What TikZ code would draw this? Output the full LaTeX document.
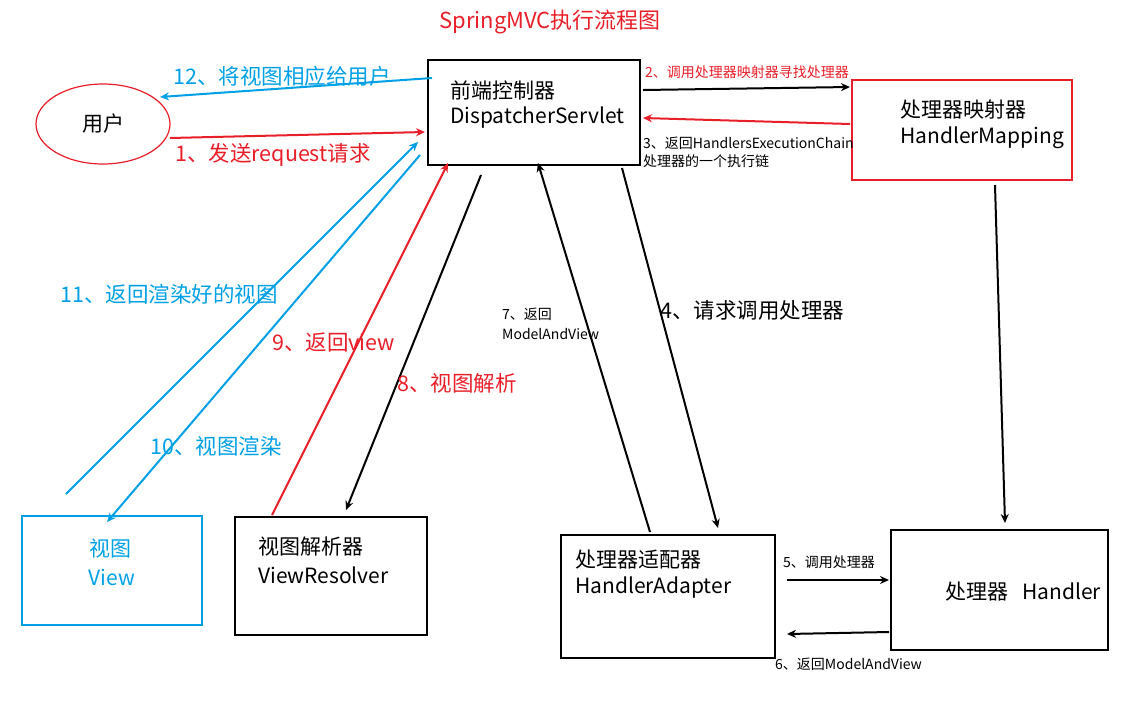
\documentclass[tikz,border=0pt]{standalone}
\usepackage{fontspec}
\setmainfont{Noto Sans CJK SC}
\usetikzlibrary{arrows.meta}
\definecolor{myred}{RGB}{232,30,40}
\definecolor{myblue}{RGB}{0,160,230}
\begin{document}
\begin{tikzpicture}[x=1pt,y=-1pt,
 box/.style={draw,line width=1.2pt,inner sep=0pt},
 arr/.style={line width=2pt,-{Stealth[length=9pt,width=8pt]}},
 big/.style={font=\fontsize{21}{24}\selectfont,anchor=west,inner sep=0pt},
 small/.style={font=\fontsize{14}{16}\selectfont,anchor=west,inner sep=0pt},
 lbl/.style={font=\fontsize{21.5}{24}\selectfont,anchor=west,inner sep=0pt}]
\useasboundingbox (0,0) rectangle (1127,713);
\node[font=\fontsize{22}{26}\selectfont,text=myred] (title) at (550,22) {SpringMVC执行流程图};
% boxes
\draw[myred,line width=1.2pt] (103,124) ellipse (67 and 40);
\node[big,anchor=center] (user) at (103,124) {用户};
\draw[box] (428,60) rectangle (640,165);
\node[big] (ds1) at (450,90) {前端控制器};
\node[big] (ds2) at (450,118) {DispatcherServlet};
\draw[box,myred] (852,80) rectangle (1072,180);
\node[big] (hm1) at (900,110) {处理器映射器};
\node[big] (hm2) at (900,138) {HandlerMapping};
\draw[box] (891,530) rectangle (1108,650);
\node[big] (h) at (945,592) {处理器\hspace{14pt}Handler};
\draw[box] (561,535) rectangle (775,658);
\node[big] (ha1) at (575,560) {处理器适配器};
\node[big] (ha2) at (575,588) {HandlerAdapter};
\draw[box] (235,517) rectangle (427,635);
\node[big] (vr1) at (258,547) {视图解析器};
\node[big] (vr2) at (258,575) {ViewResolver};
\draw[box,myblue] (22,516) rectangle (202,625);
\node[big,anchor=center,text=myblue] (v1) at (110,549) {视图};
\node[big,anchor=center,text=myblue] (v2) at (112,577) {View};
% endpoints
\foreach \n/\x/\y in {a1/170/138,b1/425/132,a12/432/78,b12/160/97,a2/643/90,b2/850/87,a3/850/124,b3/643/118,
 am/995/185,bm/1005/523,a4/622/168,b4/718/528,a7/650/532,b7/538/163,a5/787/580,b5/889/580,a6/889/632,b6/787/634,
 a8/481/175,b8/346/510,a9/272/515,b9/448/163,a10/420/155,b10/107/522,a11/66/494,b11/418/142}
 \coordinate (\n) at (\x,\y);
\draw[arr,myred] (a1)--(b1);
\draw[arr,myblue] (a12)--(b12);
\draw[arr] (a2)--(b2);
\draw[arr,myred] (a3)--(b3);
\draw[arr] (am)--(bm);
\draw[arr] (a4)--(b4);
\draw[arr] (a7)--(b7);
\draw[arr] (a5)--(b5);
\draw[arr] (a6)--(b6);
\draw[arr] (a8)--(b8);
\draw[arr,myred] (a9)--(b9);
\draw[arr,myblue] (a10)--(b10);
\draw[arr,myblue] (a11)--(b11);
% labels
\node[lbl,text=myred] (l1) at (175,155) {1、发送request请求};
\node[lbl,text=myblue] (l12) at (173,76) {12、将视图相应给用户};
\node[small,text=myred] (l2) at (645,72) {2、调用处理器映射器寻找处理器};
\node[small] (l3a) at (643,143) {3、返回HandlersExecutionChain};
\node[small] (l3b) at (643,161) {处理器的一个执行链};
\node[lbl] (l4) at (660,310) {4、请求调用处理器};
\node[small] (l7a) at (502,314) {7、返回};
\node[small] (l7b) at (502,334) {ModelAndView};
\node[small] (l5) at (783,562) {5、调用处理器};
\node[small] (l6) at (775,664) {6、返回ModelAndView};
\node[lbl,text=myred] (l8) at (397,383) {8、视图解析};
\node[lbl,text=myred] (l9) at (272,342) {9、返回view};
\node[lbl,text=myblue] (l10) at (150,446) {10、视图渲染};
\node[lbl,text=myblue] (l11) at (60,294) {11、返回渲染好的视图};
\end{tikzpicture}
\end{document}
